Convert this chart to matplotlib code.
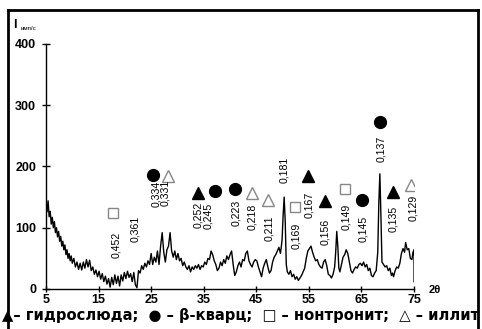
import matplotlib
matplotlib.use('Agg')
import matplotlib.pyplot as plt
from matplotlib.lines import Line2D

plt.rcParams['font.family'] = ['Liberation Sans', 'DejaVu Sans']

# XRD trace (2theta, intensity)
two_theta = [5.0, 5.2, 5.4, 5.6, 5.8, 6.0, 6.2, 6.4, 6.6, 6.8, 7.0, 7.2, 7.4, 7.6, 7.8,
             8.0, 8.2, 8.4, 8.6, 8.8, 9.0, 9.2, 9.4, 9.6, 9.8, 10.0, 10.3, 10.6, 10.9,
             11.2, 11.5, 11.8, 12.1, 12.4, 12.7, 13.0, 13.3, 13.6, 13.9, 14.2, 14.5,
             14.8, 15.1, 15.4, 15.7, 16.0, 16.3, 16.6, 16.9, 17.2, 17.5, 17.8, 18.1,
             18.4, 18.7, 19.0, 19.3, 19.6, 19.9, 20.2, 20.5, 20.8, 21.1, 21.4, 21.7,
             22.0, 22.3, 22.6, 22.9, 23.2, 23.5, 23.8, 24.1, 24.4, 24.7, 25.0, 25.3,
             25.6, 25.9, 26.2, 26.5, 26.8, 27.1, 27.4, 27.7, 28.0, 28.3, 28.6, 28.9,
             29.2, 29.5, 29.8, 30.1, 30.4, 30.7, 31.0, 31.3, 31.6, 31.9, 32.2, 32.5,
             32.8, 33.1, 33.4, 33.7, 34.0, 34.3, 34.6, 34.9, 35.2, 35.5, 35.8, 36.1,
             36.4, 36.7, 37.0, 37.3, 37.6, 37.9, 38.2, 38.5, 38.8, 39.1, 39.4, 39.7,
             40.0, 40.3, 40.6, 40.9, 41.2, 41.5, 41.8, 42.1, 42.4, 42.7, 43.0, 43.3,
             43.6, 43.9, 44.2, 44.5, 44.8, 45.1, 45.4, 45.7, 46.0, 46.3, 46.6, 46.9,
             47.2, 47.5, 47.8, 48.1, 48.4, 48.7, 49.0, 49.3, 49.6, 49.9, 50.1, 50.3,
             50.5, 50.7, 50.9, 51.2, 51.5, 51.8, 52.1, 52.4, 52.7, 53.0, 53.3, 53.6,
             53.9, 54.2, 54.5, 54.8, 55.1, 55.4, 55.7, 56.0, 56.3, 56.6, 56.9, 57.2,
             57.5, 57.8, 58.1, 58.4, 58.7, 59.0, 59.3, 59.6, 59.9, 60.1, 60.3, 60.5,
             60.7, 60.9, 61.2, 61.5, 61.8, 62.1, 62.4, 62.7, 63.0, 63.3, 63.6, 63.9,
             64.2, 64.5, 64.8, 65.1, 65.4, 65.7, 66.0, 66.3, 66.6, 66.9, 67.2, 67.5,
             67.8, 68.1, 68.3, 68.5, 68.7, 68.9, 69.2, 69.5, 69.8, 70.1, 70.4, 70.7,
             70.9, 71.1, 71.4, 71.7, 72.0, 72.3, 72.6, 72.9, 73.2, 73.4, 73.7, 74.0,
             74.3, 74.6, 74.8, 75.0, 75.0]
intensity = [140, 126, 144, 118, 127, 106, 117, 100, 110, 92, 100, 85, 94, 78, 86,
             70, 78, 64, 72, 56, 64, 50, 58, 46, 54, 42, 50, 36, 44,
             32, 42, 31, 44, 34, 48, 36, 47, 30, 36, 24, 31,
             20, 29, 16, 25, 12, 21, 8, 17, 3, 19, 7, 23,
             9, 21, 5, 23, 13, 27, 17, 29, 19, 25, 12, 27,
             7, 2, 30, 26, 38, 32, 42, 36, 46, 40, 58, 40,
             52, 44, 62, 40, 70, 92, 60, 44, 64, 70, 92, 62,
             52, 62, 48, 58, 46, 50, 38, 44, 36, 32, 38, 28,
             36, 32, 38, 34, 40, 32, 38, 36, 44, 40, 50, 48,
             62, 56, 46, 40, 30, 34, 44, 38, 48, 42, 54, 48,
             56, 62, 40, 22, 28, 38, 44, 36, 48, 46, 58, 62,
             46, 40, 36, 44, 48, 46, 36, 28, 20, 34, 42, 48,
             36, 26, 30, 44, 52, 56, 62, 68, 58, 80, 120, 150,
             110, 40, 28, 24, 30, 20, 24, 16, 20, 14, 18, 22,
             28, 34, 50, 62, 66, 70, 60, 52, 46, 48, 40, 36,
             34, 44, 48, 38, 24, 22, 18, 24, 36, 60, 94, 70,
             34, 28, 40, 52, 56, 64, 58, 44, 30, 26, 32, 36,
             34, 40, 42, 38, 44, 36, 40, 30, 34, 22, 20, 26,
             30, 60, 140, 188, 120, 44, 40, 36, 38, 30, 34, 22,
             26, 20, 30, 36, 34, 42, 58, 66, 60, 76, 64, 66,
             50, 48, 60, 64, 12]

# peak labels: d-spacing (nm), position, label height
d_labels = ['0,452', '0,361', '0,334', '0,331', '0,252', '0,245', '0,223', '0,218',
            '0,211', '0,181', '0,169', '0,167', '0,156', '0,149', '0,145', '0,137',
            '0,135', '0,129']
d_x = [18.3, 22.0, 26.0, 27.7, 34.0, 35.9, 41.2, 44.2,
       47.4, 50.2, 52.6, 55.0, 58.1, 62.0, 65.3, 68.8,
       71.1, 74.8]
d_y = [72, 98, 155, 157, 121, 119, 124, 117,
       99, 194, 87, 137, 93, 117, 98, 229,
       115, 132]

# phase symbols above the peaks
hydromica_x = [34.0, 54.8, 58.0, 71.0]
hydromica_y = [157, 184, 143, 159]
quartz_x = [25.4, 37.1, 40.9, 65.1, 68.6]
quartz_y = [186, 160, 163, 145, 272]
nontronite_x = [17.8, 52.4, 61.8]
nontronite_y = [124, 134, 163]
illite_x = [28.2, 44.2, 47.2, 74.5]
illite_y = [185, 156, 145, 170]

x_ticks = [5, 15, 25, 35, 45, 55, 65, 75]
y_ticks = [0, 100, 200, 300, 400]

fig = plt.figure(figsize=(4.82, 3.29), dpi=100)
ax = fig.add_axes([0.0954, 0.1216, 0.7636, 0.7447])

ax.plot(two_theta, intensity, color='black', lw=1.0)

for lab, x, y in zip(d_labels, d_x, d_y):
    ax.text(x, y, lab, rotation=90, ha='center', va='center', fontsize=7.6)

ax.plot(hydromica_x, hydromica_y, '^', color='black', ms=8, ls='none')
ax.plot(quartz_x, quartz_y, 'o', color='black', ms=8.5, ls='none')
ax.plot(nontronite_x, nontronite_y, 's', mfc='white', mec='#888888', mew=1.0, ms=7.5, ls='none')
ax.plot(illite_x, illite_y, '^', mfc='white', mec='#888888', mew=1.0, ms=9, ls='none')

ax.set_xlim(5, 75)
ax.set_ylim(0, 400)
ax.set_xticks(x_ticks)
ax.set_yticks(y_ticks)
ax.tick_params(direction='inout', length=6, width=1, labelsize=9, pad=4)
ax.tick_params(axis='x', length=4, pad=1.5)
for t in ax.get_xticklabels() + ax.get_yticklabels():
    t.set_fontweight('bold')
for s in ['top', 'right']:
    ax.spines[s].set_visible(False)
ax.spines['left'].set_linewidth(1)
ax.spines['bottom'].set_linewidth(1)

fig.text(0.903, 0.118, '2θ', fontsize=8, fontweight='bold', ha='center', va='center')
fig.text(0.028, 0.925, 'I', fontsize=9, fontweight='bold', ha='left', va='center')
fig.text(0.042, 0.912, 'имп/с', fontsize=4.5, ha='left', va='center')

fig.text(0.004, 0.042, '▲– гидрослюда;  ● – β-кварц;  □ – нонтронит;  △ – иллит',
         fontsize=10.6, fontweight='bold', family=['DejaVu Sans'], ha='left', va='center')

# frame round the figure
fw = 2.0
fig.add_artist(Line2D([0.017, 0.017], [0.0, 0.97], color='black', lw=fw, transform=fig.transFigure))
fig.add_artist(Line2D([0.017, 0.992], [0.97, 0.97], color='black', lw=fw, transform=fig.transFigure))
fig.add_artist(Line2D([0.992, 0.992], [0.0, 0.97], color='black', lw=fw, transform=fig.transFigure))

fig.savefig('out.png', dpi=100)
